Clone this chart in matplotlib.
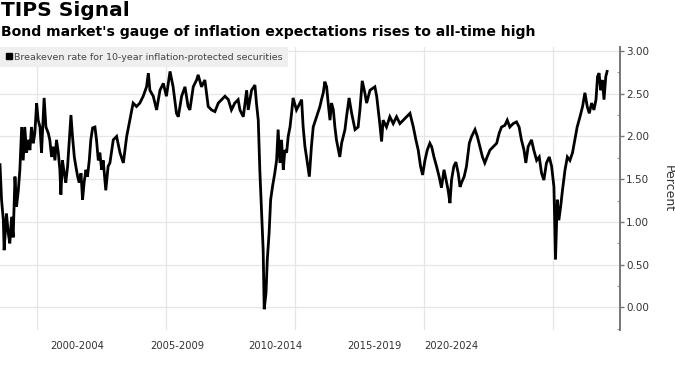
import matplotlib
matplotlib.use("Agg")
import matplotlib.pyplot as plt
from matplotlib.lines import Line2D
from matplotlib.ticker import MultipleLocator, FixedLocator

# ---- data (decimal year, breakeven rate %) ----
years = [
    1998.57, 1998.63, 1998.70, 1998.73, 1998.82, 1998.89, 1998.95, 1999.02, 1999.08, 1999.15,
    1999.21, 1999.28, 1999.34, 1999.41, 1999.47, 1999.53, 1999.60, 1999.66, 1999.73, 1999.79,
    1999.86, 1999.92, 1999.99, 2000.05, 2000.12, 2000.18, 2000.25, 2000.28, 2000.35, 2000.44,
    2000.50, 2000.57, 2000.63, 2000.70, 2000.76, 2000.83, 2000.89, 2000.93, 2000.99, 2001.06,
    2001.12, 2001.19, 2001.25, 2001.32, 2001.38, 2001.45, 2001.51, 2001.58, 2001.64, 2001.71,
    2001.77, 2001.83, 2001.90, 2001.96, 2002.03, 2002.09, 2002.16, 2002.25, 2002.31, 2002.38,
    2002.44, 2002.51, 2002.57, 2002.67, 2002.76, 2002.83,
    2002.96, 2003.09, 2003.22, 2003.35, 2003.48, 2003.60, 2003.73, 2003.86, 2003.99, 2004.12,
    2004.25, 2004.32, 2004.38, 2004.51, 2004.64, 2004.77, 2004.90, 2005.02, 2005.16, 2005.28,
    2005.41, 2005.48, 2005.61, 2005.74, 2005.86, 2005.93, 2006.06, 2006.19, 2006.25, 2006.38,
    2006.51, 2006.64, 2006.77, 2006.90, 2007.03, 2007.16, 2007.29, 2007.42, 2007.54, 2007.67,
    2007.80, 2007.87, 2008.00, 2008.13, 2008.19, 2008.32, 2008.45, 2008.51, 2008.58, 2008.64,
    2008.71, 2008.77, 2008.81, 2008.88, 2008.93, 2009.00, 2009.06, 2009.13, 2009.22, 2009.29,
    2009.35, 2009.42, 2009.48, 2009.55, 2009.61, 2009.68, 2009.74, 2009.81, 2009.87, 2009.93,
    2010.06, 2010.13, 2010.26, 2010.32, 2010.39, 2010.45, 2010.56, 2010.64, 2010.71, 2010.84,
    2010.97, 2011.03, 2011.10, 2011.16, 2011.23, 2011.29, 2011.36, 2011.42, 2011.49, 2011.55,
    2011.61, 2011.74,
    2011.81, 2011.94, 2012.00, 2012.10, 2012.20, 2012.33, 2012.45, 2012.52, 2012.61, 2012.71,
    2012.78, 2012.91, 2013.10, 2013.17, 2013.23, 2013.29, 2013.36, 2013.42, 2013.55, 2013.68,
    2013.81, 2013.94, 2014.07, 2014.20, 2014.33, 2014.46, 2014.59, 2014.69, 2014.78, 2014.87,
    2014.95, 2015.04, 2015.13, 2015.23, 2015.30, 2015.39, 2015.49, 2015.59, 2015.68, 2015.78,
    2015.88, 2015.94, 2016.01, 2016.07, 2016.16, 2016.24, 2016.33, 2016.40, 2016.46, 2016.56,
    2016.65, 2016.76, 2016.85, 2016.98, 2017.07, 2017.17, 2017.27, 2017.36, 2017.45, 2017.56,
    2017.69, 2017.82, 2017.92, 2018.01, 2018.14, 2018.23, 2018.33, 2018.46, 2018.59, 2018.69,
    2018.78, 2018.88, 2018.95, 2019.04, 2019.17, 2019.26, 2019.37, 2019.47, 2019.56, 2019.65,
    2019.75, 2019.86, 2019.95, 2020.04, 2020.10, 2020.17, 2020.23, 2020.30, 2020.37, 2020.47,
    2020.56, 2020.66, 2020.76, 2020.85, 2020.94, 2021.05, 2021.15, 2021.24, 2021.33, 2021.41,
    2021.50, 2021.59, 2021.67, 2021.73, 2021.79, 2021.85, 2021.92, 2021.98, 2022.05, 2022.10,
]
breakeven = [
    1.67, 1.26, 1.02, 0.67, 1.10, 0.87, 0.75, 1.06, 0.82, 1.53,
    1.18, 1.37, 1.61, 2.11, 1.72, 2.11, 1.81, 1.96, 1.84, 2.11,
    1.92, 2.04, 2.39, 2.19, 2.11, 1.81, 2.27, 2.45, 2.11, 2.04,
    1.96, 1.76, 1.88, 1.72, 1.96, 1.81, 1.61, 1.32, 1.72, 1.57,
    1.46, 1.65, 1.92, 2.25, 2.00, 1.76, 1.65, 1.53, 1.46, 1.57,
    1.26, 1.46, 1.61, 1.53, 1.72, 1.96, 2.10, 2.11, 1.96, 1.72,
    1.81, 1.61, 1.72, 1.37, 1.65, 1.69,
    1.96, 2.00, 1.81, 1.69, 2.00, 2.19, 2.39, 2.35, 2.39, 2.47,
    2.58, 2.74, 2.54, 2.47, 2.31, 2.54, 2.62, 2.47, 2.76, 2.58,
    2.27, 2.23, 2.47, 2.58, 2.35, 2.31, 2.58, 2.66, 2.72, 2.58,
    2.66, 2.35, 2.31, 2.29, 2.39, 2.43, 2.47, 2.43, 2.31, 2.39,
    2.43, 2.31, 2.23, 2.54, 2.31, 2.54, 2.60, 2.39, 2.19, 1.61,
    1.10, 0.67, -0.02, 0.17, 0.56, 0.87, 1.26, 1.41, 1.57, 1.72,
    2.08, 1.69, 1.96, 1.61, 1.84, 1.81, 2.00, 2.11, 2.27, 2.45,
    2.31, 2.35, 2.43, 2.11, 1.88, 1.76, 1.53, 1.88, 2.11, 2.23,
    2.35, 2.43, 2.51, 2.64, 2.58, 2.39, 2.19, 2.39, 2.31, 2.11,
    1.96, 1.76,
    1.92, 2.08, 2.23, 2.45, 2.27, 2.08, 2.11, 2.31, 2.65, 2.51,
    2.39, 2.54, 2.58, 2.47, 2.31, 2.15, 1.94, 2.19, 2.11, 2.23,
    2.15, 2.23, 2.15, 2.19, 2.23, 2.27, 2.11, 1.96, 1.84, 1.65,
    1.55, 1.72, 1.84, 1.92, 1.88, 1.76, 1.65, 1.53, 1.40, 1.61,
    1.46, 1.37, 1.22, 1.49, 1.65, 1.70, 1.57, 1.41, 1.46, 1.53,
    1.65, 1.92, 2.00, 2.08, 2.00, 1.88, 1.76, 1.69, 1.76, 1.84,
    1.88, 1.92, 2.04, 2.11, 2.13, 2.19, 2.11, 2.15, 2.17, 2.11,
    1.96, 1.84, 1.69, 1.88, 1.96, 1.84, 1.72, 1.76, 1.57, 1.49,
    1.69, 1.76, 1.65, 1.41, 0.56, 1.26, 1.02, 1.18, 1.37, 1.61,
    1.76, 1.72, 1.81, 1.96, 2.11, 2.23, 2.35, 2.51, 2.35, 2.27,
    2.39, 2.31, 2.43, 2.70, 2.74, 2.54, 2.66, 2.43, 2.70, 2.76,
]
grid_years = [2000, 2005, 2010, 2015, 2020]
period_labels = ["2000-2004", "2005-2009", "2010-2014", "2015-2019", "2020-2024"]
period_label_pos = [2001.55, 2005.43, 2009.26, 2013.10, 2016.05]
series_label = "Breakeven rate for 10-year inflation-protected securities"
title = "TIPS Signal"
subtitle = "Bond market's gauge of inflation expectations rises to all-time high"

plt.rcParams['font.family'] = ['DejaVu Sans']

fig = plt.figure(figsize=(6.75, 3.78), dpi=100)
fig.patch.set_facecolor('white')
ax = fig.add_axes([0.0, 0.127, 0.9185, 0.749])

ax.plot(years, breakeven, color='black', linewidth=2.0, solid_joinstyle='miter')

ax.set_xlim(1998.57, 2022.60)
ax.set_ylim(-0.263, 3.047)

# grid
for v in [0, 0.5, 1.0, 1.5, 2.0, 2.5, 3.0]:
    ax.axhline(v, color='#e6e6e6', linewidth=0.9, zorder=0)
for g in grid_years:
    ax.axvline(g, color='#e6e6e6', linewidth=0.9, zorder=0)

# y axis on the right
ax.yaxis.tick_right()
ax.yaxis.set_label_position('right')
ax.yaxis.set_major_locator(MultipleLocator(0.5))
ax.yaxis.set_minor_locator(MultipleLocator(0.25))
ax.yaxis.set_major_formatter(matplotlib.ticker.FormatStrFormatter('%.2f'))
ax.tick_params(axis='y', which='major', length=3, width=1.0, color='#777777',
               labelsize=7.5, labelcolor='#333333', pad=1.5, direction='out')
ax.tick_params(axis='y', which='minor', length=2, width=0.8, color='#999999', direction='in')
ax.set_ylabel("Percent", rotation=270, fontsize=9, color='#333333', labelpad=18)

# x axis labels
ax.xaxis.set_major_locator(FixedLocator(period_label_pos))
ax.set_xticklabels(period_labels)
ax.tick_params(axis='x', length=0, labelsize=7.2, labelcolor='#333333', pad=8)

for s in ['top', 'left', 'bottom']:
    ax.spines[s].set_visible(False)
ax.spines['right'].set_color('#777777')
ax.spines['right'].set_linewidth(1.4)

# legend
handle = Line2D([], [], marker='s', color='black', linestyle='none', markersize=4)
leg = ax.legend([handle], [series_label], loc='upper left', bbox_to_anchor=(0.0, 1.0),
                borderaxespad=0.0, frameon=True, fontsize=6.8, handlelength=0.6,
                handletextpad=0.3, borderpad=0.6, fancybox=False)
leg.get_frame().set_facecolor('#efefef')
leg.get_frame().set_edgecolor('none')
leg.get_frame().set_alpha(1)
for t in leg.get_texts():
    t.set_color('#444444')

fig.text(0.002, 0.997, title, fontsize=14.5, fontweight='bold', va='top', ha='left', color='black')
fig.text(0.002, 0.935, subtitle, fontsize=10.1, fontweight='bold', va='top', ha='left', color='black')

fig.savefig("out.png", dpi=100)
